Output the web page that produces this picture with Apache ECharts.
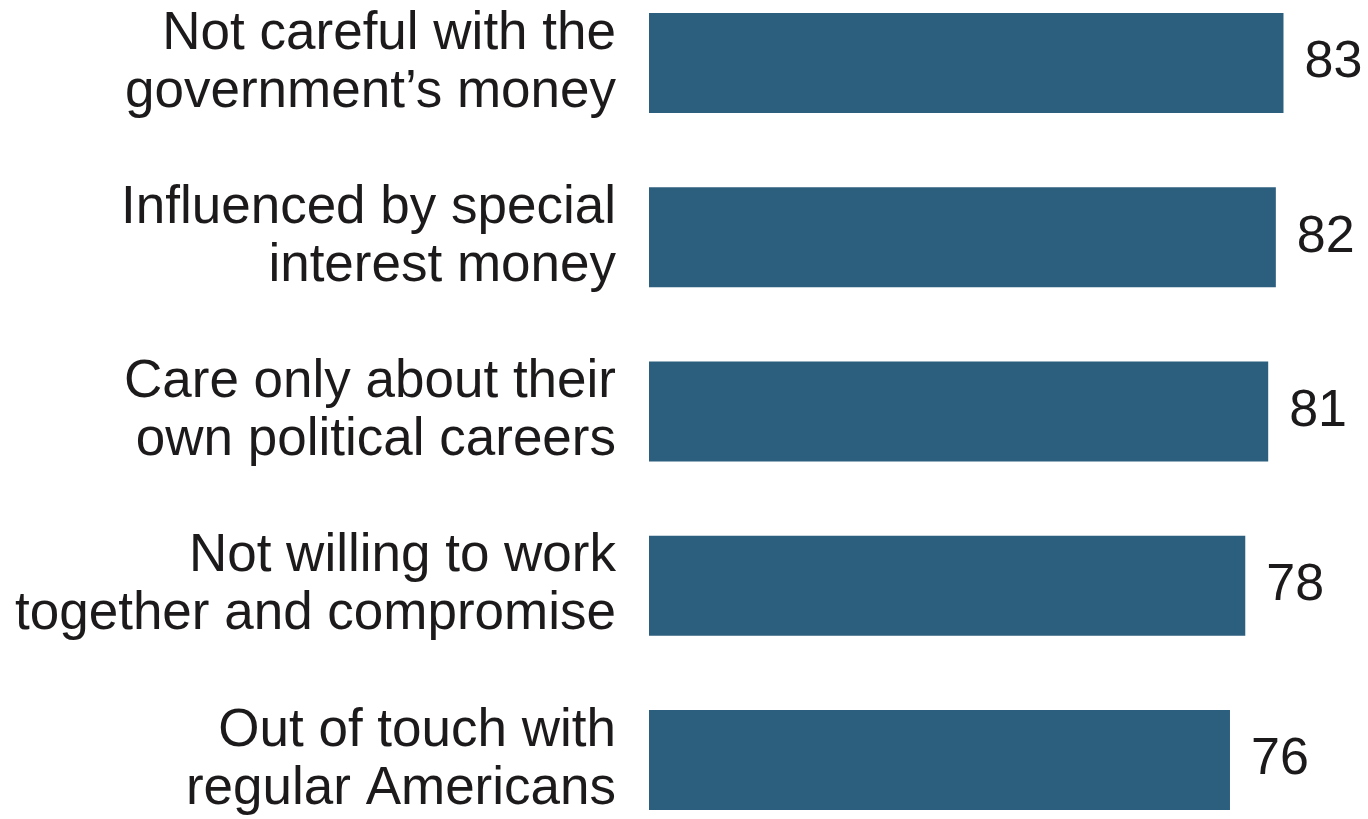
<!DOCTYPE html>
<html>
<head>
<meta charset="utf-8">
<style>
  html, body { margin: 0; padding: 0; background: #ffffff; }
  #chart { width: 1368px; height: 819px; }
</style>
<script src="https://cdn.jsdelivr.net/npm/echarts@6/dist/echarts.min.js"></script>
</head>
<body>
<div id="chart"></div>
<script>
// Reasons people give for their view of elected officials (% saying each)
const categories = [
  'Not careful with the\ngovernment\u2019s money',
  'Influenced by special\ninterest money',
  'Care only about their\nown political careers',
  'Not willing to work\ntogether and compromise',
  'Out of touch with\nregular Americans'
];
const values = [83, 82, 81, 78, 76];

const FONT = '"Liberation Sans", Arial, Helvetica, sans-serif';
const TEXT = '#1c1a1b';
const BAR = '#2c5e7e';

const chart = echarts.init(document.getElementById('chart'), null, { renderer: 'canvas' });
chart.setOption({
  backgroundColor: '#ffffff',
  animation: false,
  grid: {
    left: 649,
    right: 31,
    top: -24,
    bottom: -28,
    containLabel: false,
    outerBoundsMode: 'none'
  },
  xAxis: {
    type: 'value',
    min: 0,
    max: 90,
    show: false
  },
  yAxis: {
    type: 'category',
    data: categories,
    inverse: true,
    axisLine: { show: false },
    axisTick: { show: false },
    splitLine: { show: false },
    axisLabel: {
      margin: 33,
      align: 'right',
      verticalAlign: 'middle',
      fontFamily: FONT,
      fontSize: 53,
      lineHeight: 58,
      padding: [18, 0, 0, 0],
      color: TEXT
    }
  },
  series: [{
    type: 'bar',
    data: values,
    barWidth: 100,
    itemStyle: { color: BAR },
    label: {
      show: true,
      position: 'right',
      distance: 21,
      fontFamily: FONT,
      fontSize: 52,
      padding: [4, 0, 0, 0],
      color: TEXT
    }
  }]
});
</script>
</body>
</html>
